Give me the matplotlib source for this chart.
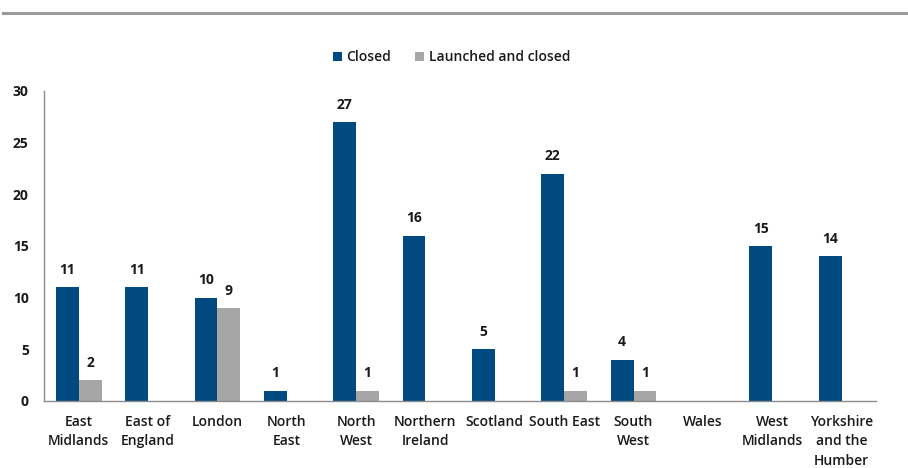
import matplotlib
matplotlib.use("Agg")
import matplotlib.pyplot as plt
import numpy as np
from matplotlib.lines import Line2D

regions = ["East\nMidlands", "East of\nEngland", "London", "North\nEast", "North\nWest",
           "Northern\nIreland", "Scotland", "South East", "South\nWest", "Wales",
           "West\nMidlands", "Yorkshire\nand the\nHumber"]
closed = [11, 11, 10, 1, 27, 16, 5, 22, 4, 0, 15, 14]
launched_closed = [2, 0, 9, 0, 1, 0, 0, 1, 1, 0, 0, 0]
yticks = [0, 5, 10, 15, 20, 25, 30]

blue = "#004A7F"
grey = "#A6A6A6"
txt = "#1a1a1a"

plt.rcParams["font.family"] = ["Open Sans", "DejaVu Sans"]

fig = plt.figure(figsize=(9.08, 4.68), dpi=100)
ax = fig.add_axes([0.0485, 0.1432, 0.9165, 0.6624])

x = np.arange(len(regions))
w = 0.33
b1 = ax.bar(x - w / 2, closed, w, color=blue, label="Closed")
b2 = ax.bar(x + w / 2, launched_closed, w, color=grey, label="Launched and closed")

for bars, vals in ((b1, closed), (b2, launched_closed)):
    for rect, v in zip(bars, vals):
        if v:
            ax.text(rect.get_x() + rect.get_width() / 2, v + 1.0, str(v), ha="center",
                    va="bottom", fontsize=10, fontweight="bold", color=txt)

ax.set_xlim(-0.5, len(regions) - 0.5)
ax.set_ylim(0, 30)
ax.set_yticks(yticks)
ax.set_yticklabels([str(t) for t in yticks], fontsize=10, fontweight="bold", color=txt)
ax.set_xticks(x)
ax.set_xticklabels(regions, fontsize=10, fontweight="semibold", color=txt,
                   linespacing=1.5, va="top")
ax.tick_params(axis="both", length=0)
ax.tick_params(axis="x", pad=10)
ax.tick_params(axis="y", pad=11)
for s in ["top", "right"]:
    ax.spines[s].set_visible(False)
for s in ["left", "bottom"]:
    ax.spines[s].set_color("#8c8c8c")
    ax.spines[s].set_linewidth(1.0)

leg = ax.legend(loc="center", bbox_to_anchor=(0.497, 0.878), bbox_transform=fig.transFigure,
                ncol=2, frameon=False, fontsize=10, handlelength=0.65, handleheight=0.65,
                handletextpad=0.3, columnspacing=1.8)
for t in leg.get_texts():
    t.set_fontweight("semibold")
    t.set_color(txt)

# rule under the page header
fig.add_artist(Line2D([0.003, 1.0], [0.972, 0.972], transform=fig.transFigure,
                      color="#9a9a9a", linewidth=2.2))

fig.savefig("out.png", dpi=100)
